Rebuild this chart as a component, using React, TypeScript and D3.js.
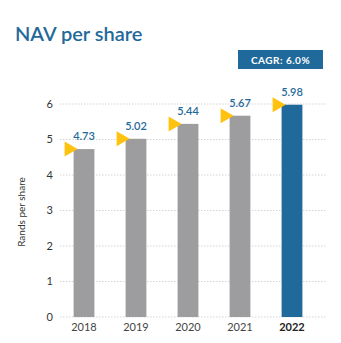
import React from 'react';
import * as d3 from 'd3';

const years = ['2018', '2019', '2020', '2021', '2022'];
const navValues = [4.73, 5.02, 5.44, 5.67, 5.98];
const yTicks = [0, 1, 2, 3, 4, 5, 6];

const width = 341;
const height = 343;
const blue = '#1f6a9a';
const grey = '#9d9da0';
const yellow = '#ffc20e';
const font = 'Lato, "Open Sans", sans-serif';

const App = () => {
  const x = d3.scaleBand<string>().domain(years).range([58, 318]).paddingInner(0.6).paddingOuter(0.3);
  const y = d3.scaleLinear().domain([0, 6]).range([317, 104]);

  const triangle = d3.line<[number, number]>();

  return (
    <svg
      width={width}
      height={height}
      style={{ position: 'absolute', left: 0, top: 0, background: '#fff' }}
    >
      {/* title */}
      <text x={15} y={41} fill={blue} fontFamily={font} fontSize={20} fontWeight={600}>
        NAV per share
      </text>

      {/* CAGR badge */}
      <rect x={238} y={50} width={85} height={19} fill={blue} />
      <text
        x={280.5}
        y={63.5}
        textAnchor="middle"
        fill="#fff"
        fontFamily={font}
        fontSize={10}
        fontWeight={700}
        letterSpacing={0.5}
      >
        CAGR: 6.0%
      </text>

      {/* grid + y ticks */}
      {yTicks.map((t) => (
        <g key={t}>
          <line
            x1={60}
            x2={327}
            y1={y(t)}
            y2={y(t)}
            stroke="#d4d4d4"
            strokeWidth={1}
            strokeDasharray="1.5 1.5"
          />
          <text
            x={53}
            y={y(t)}
            dy="0.35em"
            textAnchor="end"
            fill="#333"
            fontFamily={font}
            fontSize={11}
          >
            {t}
          </text>
        </g>
      ))}

      {/* y axis title */}
      <text
        transform={`translate(25,212) rotate(-90)`}
        textAnchor="middle"
        fill="#333"
        fontFamily={font}
        fontSize={10}
      >
        Rands per share
      </text>

      {/* bars */}
      {years.map((yr, i) => {
        const bx = x(yr) as number;
        const top = y(navValues[i]);
        const last = i === years.length - 1;
        const tri: [number, number][] = [
          [bx - 9, top - 7.5],
          [bx + 4, top],
          [bx - 9, top + 7.5],
        ];
        return (
          <g key={yr}>
            <rect
              x={bx}
              y={top}
              width={x.bandwidth()}
              height={y(0) - top}
              fill={last ? blue : grey}
            />
            <path d={triangle(tri) + 'Z'} fill={yellow} />
            <text
              x={bx + x.bandwidth() / 2}
              y={top - 9}
              textAnchor="middle"
              fill={blue}
              fontFamily={font}
              fontSize={11}
              fontWeight={600}
            >
              {navValues[i].toFixed(2)}
            </text>
            <text
              x={bx + x.bandwidth() / 2}
              y={331}
              textAnchor="middle"
              fill={last ? '#222' : '#444'}
              fontFamily={font}
              fontSize={11}
              fontWeight={last ? 700 : 400}
            >
              {yr}
            </text>
          </g>
        );
      })}
    </svg>
  );
};

export default App;
